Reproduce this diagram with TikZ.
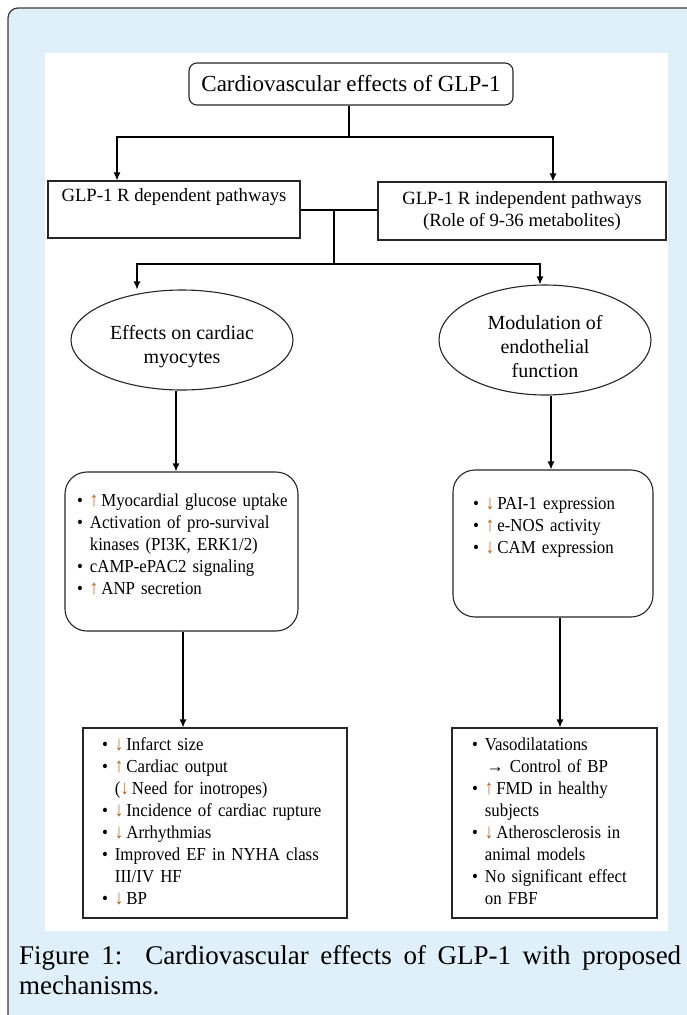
\documentclass[tikz,border=0pt]{standalone}
\usepackage{fontspec}
\setmainfont{Liberation Serif}
\newfontfamily\listfont[FakeStretch=0.92]{Liberation Serif}
\usetikzlibrary{arrows.meta,shapes.geometric,calc}
\definecolor{framebg}{HTML}{DFF0FA}
\definecolor{framedraw}{HTML}{3A3A3A}
\definecolor{arrc}{HTML}{B0651E}
\newcommand{\upa}{{\color{arrc}\scalebox{1}[1.12]{↑}}\,}
\newcommand{\dna}{{\color{arrc}\scalebox{1}[1.12]{↓}}\,}
\newcommand{\bl}{\textbullet}
\begin{document}
\begin{tikzpicture}[x=1pt,y=-1pt,
  box/.style={draw=black!85, line width=1.1pt, inner sep=0pt, fill=white},
  ell/.style={ellipse, draw=black!85, line width=1.1pt, inner sep=0pt, fill=white},
  elltext/.style={align=center, font=\fontsize{20}{24}\selectfont, yshift=-7pt, inner sep=0pt},
  topbox/.style={box, align=center, font=\fontsize{18.7}{22}\selectfont},
  listbox/.style={box, inner ysep=0pt, align=left, font=\listfont\fontsize{18.3}{22}\selectfont},
  conn/.style={line width=1.1pt, draw=black},
  arr/.style={conn, -{Latex[length=8pt,width=7pt]}}]
\useasboundingbox (0,0) rectangle (687,1015);
\draw[framedraw, fill=framebg, line width=1.2pt, rounded corners=10pt] (8,8) rectangle (760,1080);
\fill[white] (45,53) rectangle (668,931);

% title
\node[box, rounded corners=8pt, minimum width=324pt, minimum height=42pt,
  font=\fontsize{23}{27}\selectfont] (title) at (351,84) {Cardiovascular effects of GLP-1};

% pathway boxes
\node[topbox, minimum width=252pt, minimum height=57pt] (lbox) at (174,209.5)
  {GLP-1 R dependent pathways\\\strut};
\node[topbox, minimum width=288pt, minimum height=58pt] (rbox) at (522,211)
  {GLP-1 R independent pathways\\(Role of 9-36 metabolites)};

% ellipses
\node[ell, minimum width=222pt, minimum height=100pt,
  label={[elltext]center:Effects on cardiac\\myocytes}] (le) at (182,340) {};
\node[ell, minimum width=212pt, minimum height=110pt,
  label={[elltext]center:Modulation of\\endothelial\\function}] (re) at (545,340) {};

% rounded list boxes
\node[listbox, rounded corners=22pt, minimum width=233pt, minimum height=159pt,
  inner xsep=12pt, text width=209pt] (lr) at (181.5,551.5)
  {\noindent\begin{tabular}{@{}l@{\hspace{7pt}}l@{}}
  \bl & \upa Myocardial glucose uptake\\
  \bl & Activation of pro-survival\\
      & kinases (PI3K, ERK1/2)\\
  \bl & cAMP-ePAC2 signaling\\
  \bl & \upa ANP secretion\\[10pt]
  \end{tabular}};
\node[listbox, rounded corners=22pt, minimum width=200pt, minimum height=147pt,
  inner xsep=20pt, text width=160pt] (rr) at (553,543.5)
  {\noindent\begin{tabular}{@{}l@{\hspace{7pt}}l@{}}
  \bl & \dna PAI-1 expression\\
  \bl & \upa e-NOS activity\\
  \bl & \dna CAM expression\\
      & \\[10pt]
  \end{tabular}};

% bottom boxes
\node[listbox, minimum width=264pt, minimum height=190pt,
  inner xsep=19pt, text width=226pt] (bl) at (215,823)
  {\noindent\begin{tabular}{@{}l@{\hspace{7pt}}l@{}}
  \bl & \dna Infarct size\\
  \bl & \upa Cardiac output\\
      & (\dna Need for inotropes)\\
  \bl & \dna Incidence of cardiac rupture\\
  \bl & \dna Arrhythmias\\
  \bl & Improved EF in NYHA class\\
      & III/IV HF\\
  \bl & \dna BP\\
  \end{tabular}};
\node[listbox, minimum width=205pt, minimum height=190pt,
  inner xsep=20pt, text width=165pt] (br) at (554.5,823)
  {\noindent\begin{tabular}{@{}l@{\hspace{7pt}}l@{}}
  \bl & Vasodilatations\\
      & \hspace{2pt}→ Control of BP\\
  \bl & \upa FMD in healthy\\
      & subjects\\
  \bl & \dna Atherosclerosis in\\
      & animal models\\
  \bl & No significant effect\\
      & on FBF\\
  \end{tabular}};

% caption
\node[anchor=base west, inner sep=0pt, font=\fontsize{27}{30}\selectfont] (cap1) at (19,964)
  {\makebox[662pt][s]{Figure 1:\ \ Cardiovascular effects of GLP-1 with proposed}};
\node[anchor=base west, inner sep=0pt, font=\fontsize{27}{30}\selectfont] (cap2) at (19,994)
  {mechanisms.};

% connector coordinates
\coordinate (j1) at (349,137);
\coordinate (xa) at (117,0);
\coordinate (xb) at (553,0);
\coordinate (j2) at (334,210);
\coordinate (j3) at (334,264);
\coordinate (xc) at (137,0);
\coordinate (xd) at (540,0);
\coordinate (cL1) at (176,0);
\coordinate (cL2) at (183,0);
\coordinate (cR1) at (551,0);
\coordinate (cR2) at (560,0);

\draw[conn] (j1 |- title.south) -- (j1);
\draw[arr] (j1) -| (xa |- lbox.north);
\draw[arr] (j1) -| (xb |- rbox.north);
\draw[conn] (j2 -| lbox.east) -- (j2 -| rbox.west);
\draw[conn] (j2) -- (j3);
\draw[arr] (j3) -| (xc |- le.north);
\draw[arr] (j3) -| (xd |- re.north);
\draw[arr] (cL1 |- le.south) -- (cL1 |- lr.north);
\draw[arr] (cR1 |- re.south) -- (cR1 |- rr.north);
\draw[arr] (cL2 |- lr.south) -- (cL2 |- bl.north);
\draw[arr] (cR2 |- rr.south) -- (cR2 |- br.north);
\end{tikzpicture}
\end{document}
